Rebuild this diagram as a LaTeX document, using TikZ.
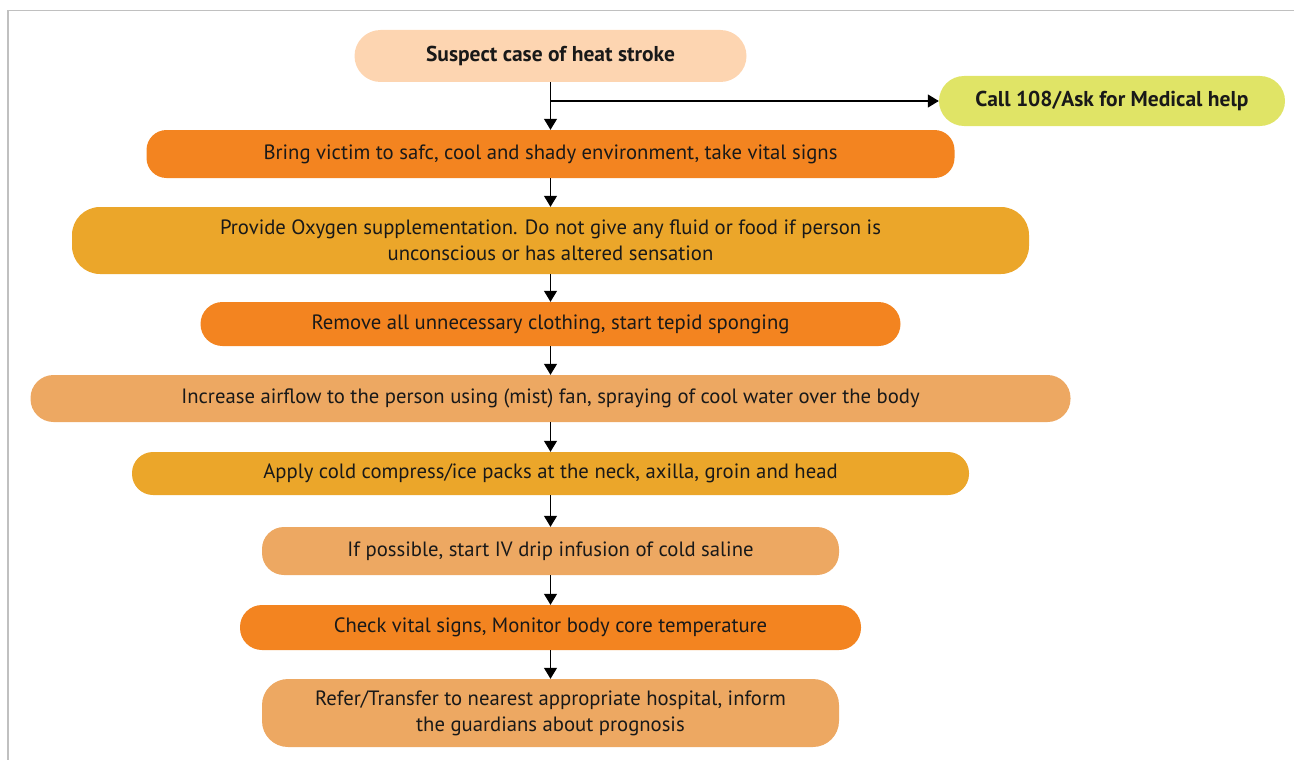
\documentclass[tikz,border=0pt]{standalone}
\usepackage{fontspec}
\setmainfont{PT Sans}
\usetikzlibrary{arrows.meta}
\definecolor{peach}{HTML}{FDD5B1}
\definecolor{lime}{HTML}{E0E466}
\definecolor{deeporange}{HTML}{F38420}
\definecolor{gold}{HTML}{EBA62A}
\definecolor{tan}{HTML}{EDA862}
\definecolor{framegray}{HTML}{C0C0C0}
\tikzset{
  stepbox/.style={rectangle, inner sep=0pt, align=center, text=black!90,
    font=\fontsize{20.7}{26}\selectfont},
  headbox/.style={stepbox, font=\bfseries\fontsize{21.5}{26}\selectfont},
  flow/.style={draw=black, line width=1.1pt, -{Triangle[length=11pt,width=13pt]}},
}
\begin{document}
\begin{tikzpicture}[x=1pt,y=-1pt]
\useasboundingbox (0,0) rectangle (1294,760);
% partial frame
\draw[framegray, line width=1.2pt] (8,760) -- (8,10.5) -- (1294,10.5);

\node[headbox, fill=peach, minimum width=392pt, minimum height=52pt, rounded corners=26pt]
  (suspect) at (550.5,56) {Suspect case of heat stroke};
\node[headbox, fill=lime, minimum width=346pt, minimum height=50pt, rounded corners=25pt]
  (call) at (1112,101) {Call 108/Ask for Medical help};
\node[stepbox, fill=deeporange, minimum width=808pt, minimum height=48pt, rounded corners=20pt] (bring) at (550.5,154)
  {Bring victim to safc, cool and shady environment, take vital signs};
\node[stepbox, fill=gold, minimum width=957pt, minimum height=67pt, rounded corners=28pt] (oxygen) at (550.5,240.5)
  {Provide Oxygen supplementation. Do not give any fluid or food if person is\\unconscious or has altered sensation};
\node[stepbox, fill=deeporange, minimum width=700pt, minimum height=44pt, rounded corners=22pt] (remove) at (550.5,324)
  {Remove all unnecessary clothing, start tepid sponging};
\node[stepbox, fill=tan, minimum width=1040pt, minimum height=47pt, rounded corners=23pt] (airflow) at (550.5,398.5)
  {Increase airflow to the person using (mist) fan, spraying of cool water over the body};
\node[stepbox, fill=gold, minimum width=837pt, minimum height=43pt, rounded corners=21pt] (compress) at (550.5,473.5)
  {Apply cold compress/ice packs at the neck, axilla, groin and head};
\node[stepbox, fill=tan, minimum width=577pt, minimum height=48pt, rounded corners=22pt] (drip) at (550.5,551)
  {If possible, start IV drip infusion of cold saline};
\node[stepbox, fill=deeporange, minimum width=621pt, minimum height=45pt, rounded corners=22pt] (check) at (550.5,627.5)
  {Check vital signs, Monitor body core temperature};
\node[stepbox, fill=tan, minimum width=577pt, minimum height=68pt, rounded corners=26pt] (refer) at (550.5,713)
  {Refer/Transfer to nearest appropriate hospital, inform\\the guardians about prognosis};

\coordinate (split) at (suspect.south |- call.west);
\draw[flow] (suspect) -- (bring);
\draw[flow] (split) -- (call);
\draw[flow] (bring) -- (oxygen);
\draw[flow] (oxygen) -- (remove);
\draw[flow] (remove) -- (airflow);
\draw[flow] (airflow) -- (compress);
\draw[flow] (compress) -- (drip);
\draw[flow] (drip) -- (check);
\draw[flow] (check) -- (refer);
\end{tikzpicture}
\end{document}
